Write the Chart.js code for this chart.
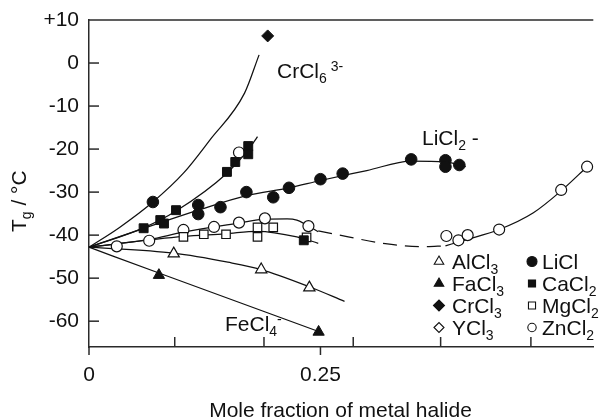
<!DOCTYPE html>
<html lang="en">
<head>
<meta charset="UTF-8">
<title>Tg vs mole fraction of metal halide</title>
<script src="https://cdn.jsdelivr.net/npm/chart.js"></script>
<style>
  html, body { margin: 0; padding: 0; background: #fff; }
  #wrap { position: relative; width: 601px; height: 419px; }
</style>
</head>
<body>
<div id="wrap"><canvas id="tg"></canvas></div>
<script>
// measured points, [mole fraction, Tg in °C]
const alcl3 = [[0.0915, -44.3], [0.186, -48.0], [0.238, -52.2]];
const facl3 = [[0.0755, -49.3], [0.248, -62.5]];
const crcl3 = [[0.193, 6.3]];
const ycl3 = [];
const licl = [[0.069, -32.3], [0.118, -33.0], [0.118, -35.1], [0.142, -33.5], [0.170, -30.0],
  [0.199, -31.2], [0.216, -29.0], [0.250, -27.0], [0.274, -25.7], [0.348, -22.4],
  [0.385, -22.6], [0.385, -24.1], [0.400, -23.7]];
const cacl2 = [[0.059, -38.4], [0.077, -36.5], [0.081, -37.3], [0.094, -34.2], [0.149, -25.3],
  [0.158, -23.0], [0.172, -19.3], [0.172, -21.2], [0.232, -41.2]];
const mgcl2 = [[0.102, -40.4], [0.124, -39.8], [0.148, -39.8], [0.182, -38.2], [0.182, -40.4],
  [0.199, -38.2], [0.235, -40.5]];
const zncl2 = [[0.030, -42.6], [0.065, -41.3], [0.102, -38.8], [0.135, -38.1], [0.162, -37.1],
  [0.190, -36.1], [0.162, -20.8], [0.237, -37.9], [0.386, -40.2], [0.399, -41.2],
  [0.409, -40.0], [0.443, -38.7], [0.510, -29.5], [0.538, -24.1]];

// hand-drawn guide curves
const fitCrCl6 = [[0, -42.8], [0.033, -38.2], [0.069, -32.3], [0.102, -25.6], [0.1305, -17.9], [0.168, -7.0], [0.1837, 1.9]];
const fitCaCl2 = [[0, -42.8], [0.059, -38.3], [0.094, -34.4], [0.149, -25.6], [0.172, -20.2], [0.182, -17.1]];
const fitLiCl = [[0, -42.8], [0.118, -34.2], [0.17, -30.8], [0.216, -29.0], [0.25, -27.3], [0.30, -25.0],
  [0.348, -22.8], [0.385, -23.0], [0.407, -24.1]];
const fitZnLeft = [[0, -42.8], [0.065, -41.0], [0.102, -39.3], [0.162, -37.2], [0.19, -36.3], [0.214, -36.2],
  [0.2245, -36.5], [0.2476, -39.2]];
const fitZnGap = [[0.2476, -39.0], [0.28, -40.4], [0.32, -42.0], [0.36, -42.7], [0.385, -42.5]];
const fitZnRight = [[0.385, -42.5], [0.405, -41.2], [0.443, -38.7], [0.48, -34.8], [0.51, -29.7], [0.538, -24.1]];
const fitMgCl2 = [[0, -42.8], [0.102, -40.3], [0.147, -39.7], [0.182, -39.1], [0.2245, -40.4], [0.2476, -41.9]];
const fitAlCl3 = [[0, -42.8], [0.0915, -44.2], [0.15, -46.3], [0.186, -48.0], [0.238, -52.0], [0.276, -55.4]];
const fitFeCl3 = [[0, -42.8], [0.0755, -48.8], [0.248, -62.4]];

// axes
const yTicks = [10, 0, -10, -20, -30, -40, -50, -60];
const xTicks = [0, 0.25];
const xInnerTicks = [0.0926, 0.189, 0.2854, 0.3798, 0.4773];
const xMin = 0, xMax = 0.5447, yMin = -66, yMax = 10;

const INK = '#111';
const AXIS = '#2a2a2a';
const FAMILY = "'Liberation Sans', Arial, Helvetica, sans-serif";
const BASE = '21px ' + FAMILY;
const SMALL = '14px ' + FAMILY;

Chart.defaults.font.family = FAMILY;
Chart.defaults.font.size = 21;
Chart.defaults.color = INK;

const pts = arr => arr.map(([x, y]) => ({x, y}));

function markers(label, data, style, filled, r) {
  return {
    label, data: pts(data), pointStyle: style, pointRadius: r, pointHoverRadius: r,
    pointBackgroundColor: filled ? INK : '#fff', pointBorderColor: INK,
    pointBorderWidth: filled ? 1 : 1.2, showLine: false, clip: false
  };
}
function curve(data, dash) {
  return {
    data: pts(data), showLine: true, pointRadius: 0, borderColor: INK, borderWidth: 1.25,
    borderDash: dash || [], cubicInterpolationMode: 'monotone', fill: false, clip: false
  };
}

function rich(ctx, parts, x, y) {
  for (const [t, k] of parts) {
    ctx.font = k ? SMALL : BASE;
    const dy = k === 1 ? 5 : k === 2 ? -7.5 : 0;
    ctx.fillText(t, x, y + dy);
    x += ctx.measureText(t).width;
  }
  return x;
}

const legendRows = [
  {col: 0, row: 0, text: [['AlCl', 0], ['3', 1]], style: 'triangle', filled: false, r: 5.5},
  {col: 0, row: 1, text: [['FaCl', 0], ['3', 1]], style: 'triangle', filled: true, r: 5.5},
  {col: 0, row: 2, text: [['CrCl', 0], ['3', 1]], style: 'rectRot', filled: true, r: 5.5},
  {col: 0, row: 3, text: [['YCl', 0], ['3', 1]], style: 'rectRot', filled: false, r: 5},
  {col: 1, row: 0, text: [['LiCl', 0]], style: 'circle', filled: true, r: 5},
  {col: 1, row: 1, text: [['CaCl', 0], ['2', 1]], style: 'rect', filled: true, r: 5},
  {col: 1, row: 2, text: [['MgCl', 0], ['2', 1]], style: 'rect', filled: false, r: 5},
  {col: 1, row: 3, text: [['ZnCl', 0], ['2', 1]], style: 'circle', filled: false, r: 4.2}
];

const notes = [
  {x: 277, y: 78, text: [['CrCl', 0], ['6', 1], [' 3-', 2]]},
  {x: 422, y: 145, text: [['LiCl', 0], ['2', 1], [' -', 0]]},
  {x: 225, y: 331, text: [['FeCl', 0], ['4', 1], ['-', 2]]}
];

const decor = {
  id: 'decor',
  afterDraw(chart) {
    const {ctx, chartArea: a, scales: {x, y}} = chart;
    const seg = (x1, y1, x2, y2) => { ctx.beginPath(); ctx.moveTo(x1, y1); ctx.lineTo(x2, y2); ctx.stroke(); };
    ctx.save();
    ctx.strokeStyle = AXIS;
    ctx.lineWidth = 1.5;
    seg(a.left, a.top, a.right, a.top);
    yTicks.filter(v => v < yMax).forEach(v => {
      const py = y.getPixelForValue(v);
      seg(a.left, py, a.left + 10, py);
    });
    xTicks.forEach(v => {
      const px = x.getPixelForValue(v);
      seg(px, a.bottom, px, a.bottom + 8);
    });
    xInnerTicks.forEach(v => {
      const px = x.getPixelForValue(v);
      seg(px, a.bottom, px, a.bottom - 10);
    });

    ctx.fillStyle = INK;
    ctx.textBaseline = 'alphabetic';
    ctx.textAlign = 'left';
    notes.forEach(n => rich(ctx, n.text, n.x, n.y));

    // legend
    const colMark = [439, 532], colText = [452, 542], rowBase = [269, 291, 313, 335];
    legendRows.forEach(item => {
      const mx = colMark[item.col], my = rowBase[item.row] - 7.5;
      ctx.fillStyle = item.filled ? INK : '#fff';
      ctx.strokeStyle = INK;
      ctx.lineWidth = 1.1;
      Chart.helpers.drawPoint(ctx, {pointStyle: item.style, radius: item.r, rotation: 0, borderWidth: 1.1}, mx, my);
      ctx.fillStyle = INK;
      rich(ctx, item.text, colText[item.col], rowBase[item.row]);
    });

    // axis titles
    ctx.font = BASE;
    ctx.textAlign = 'center';
    ctx.fillText('Mole fraction of metal halide', 340.5, 417);
    ctx.textAlign = 'left';
    ctx.translate(25.5, 232);
    ctx.rotate(-Math.PI / 2);
    rich(ctx, [['T', 0], ['g', 1], [' / °C', 0]], 0, 0);
    ctx.restore();
  }
};

new Chart(document.getElementById('tg'), {
  type: 'scatter',
  data: {
    datasets: [
      markers('CrCl3', crcl3, 'rectRot', true, 6),
      markers('LiCl', licl, 'circle', true, 5.8),
      markers('CaCl2', cacl2, 'rect', true, 6.3),
      markers('AlCl3', alcl3, 'triangle', false, 6.5),
      markers('FaCl3', facl3, 'triangle', true, 6.5),
      markers('YCl3', ycl3, 'rectRot', false, 6),
      markers('MgCl2', mgcl2, 'rect', false, 6),
      markers('ZnCl2', zncl2, 'circle', false, 5.5),
      curve(fitCrCl6), curve(fitCaCl2), curve(fitLiCl), curve(fitZnLeft),
      curve(fitZnGap, [14, 8]), curve(fitZnRight), curve(fitMgCl2),
      curve(fitAlCl3), curve(fitFeCl3)
    ]
  },
  options: {
    responsive: true,
    maintainAspectRatio: false,
    animation: false,
    layout: {padding: {left: 0, right: 0, top: 20, bottom: 0}},
    plugins: {legend: {display: false}, tooltip: {enabled: false}},
    scales: {
      x: {
        type: 'linear', min: xMin, max: xMax,
        grid: {display: false, drawTicks: false},
        border: {display: true, color: AXIS, width: 1.5},
        ticks: {padding: 16, color: INK, callback: v => v === 0 ? '0' : String(v)},
        afterBuildTicks: s => { s.ticks = xTicks.map(v => ({value: v})); },
        afterFit: s => { s.height = 72; s.paddingLeft = 0; s.paddingRight = 0; }
      },
      y: {
        type: 'linear', min: yMin, max: yMax,
        grid: {display: false, drawTicks: false},
        border: {display: true, color: AXIS, width: 1.5},
        ticks: {padding: 10, color: INK, callback: v => v > 0 ? '+' + v : String(v)},
        afterBuildTicks: s => { s.ticks = yTicks.map(v => ({value: v})); },
        afterFit: s => { s.width = 89; s.paddingTop = 0; s.paddingBottom = 0; }
      }
    }
  },
  plugins: [decor]
});
</script>
</body>
</html>
